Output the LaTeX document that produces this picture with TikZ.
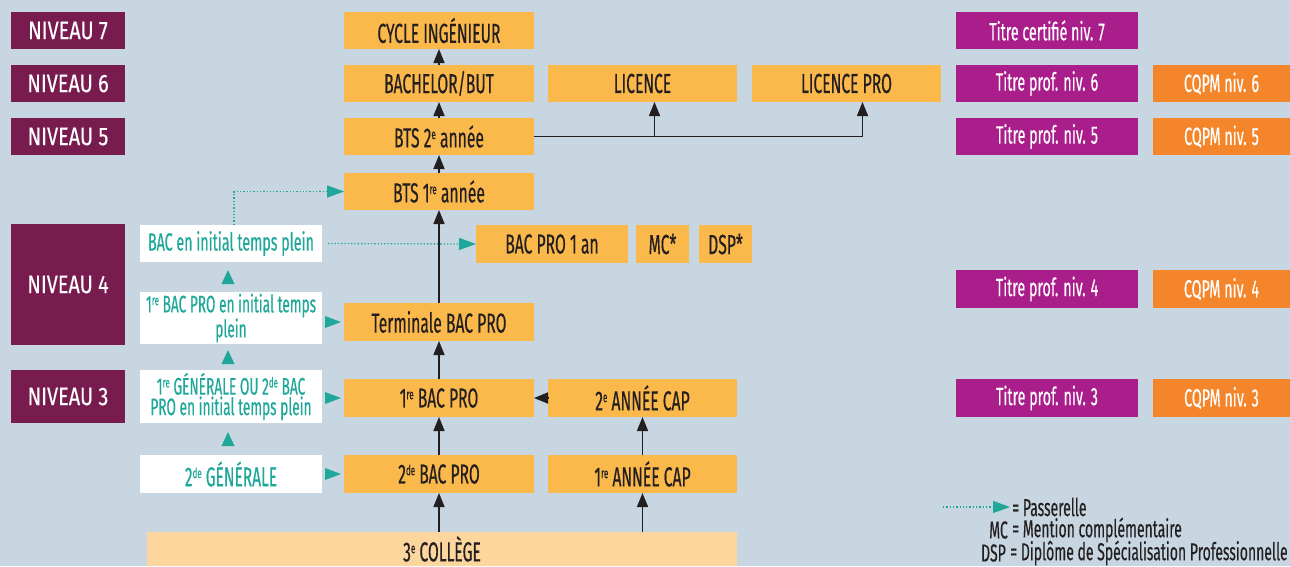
\documentclass[tikz,border=0pt]{standalone}
\usepackage{fontspec}
\setmainfont{Fira Sans}[FakeStretch=0.57,FakeBold=0.35]
\newfontfamily\nvfont{Fira Sans}[FakeStretch=0.78,FakeBold=0.35]
\usetikzlibrary{arrows.meta,calc}
\definecolor{bg}{HTML}{C8D6E1}
\definecolor{orng}{HTML}{FBB84B}
\definecolor{lorng}{HTML}{FDD69E}
\definecolor{purp}{HTML}{781C50}
\definecolor{mag}{HTML}{AA1E8C}
\definecolor{orng2}{HTML}{F5852A}
\definecolor{tealc}{HTML}{1FA89A}
\definecolor{txt}{HTML}{231F20}
\newcommand{\bx}[7]{\node[#6, minimum width={(#4-#2)*1pt}, minimum height={(#5-#3)*1pt}] (#1) at ({(#2+#4)/2},{(#3+#5)/2}) {#7};}
\newcommand{\uptri}[1]{\fill[tealc] (#1) ++(-6.5,7) -- ++(13,0) -- ++(-6.5,-14) -- cycle;}
\newcommand{\rtri}[1]{\fill[tealc] (#1) ++(-16,-6) -- ++(16,6) -- ++(-16,6) -- cycle;}
\newcommand{\sups}[1]{\raisebox{0.3em}{\fontsize{14}{14}\selectfont #1}}
\begin{document}
\begin{tikzpicture}[x=1pt,y=-1pt,
  box/.style={inner sep=0pt, outer sep=0pt, align=center, font=\fontsize{27.5}{28}\selectfont},
  ob/.style={box, fill=orng, text=txt},
  cb/.style={box, fill=lorng, text=txt},
  nv/.style={box, fill=purp, text=white, font=\nvfont\fontsize{25.5}{26}\selectfont},
  tp/.style={box, fill=mag, text=white, font=\fontsize{25}{26}\selectfont},
  cq/.style={box, fill=orng2, text=white, font=\fontsize{25}{26}\selectfont},
  wb/.style={box, fill=white, text=tealc, font=\fontsize{25}{26}\selectfont},
  wbs/.style={wb, font=\fontsize{24}{20.5}\selectfont},
  blk/.style={draw=txt, line width=1.6pt, -{Triangle[width=11pt,length=14pt]}},
  pas/.style={draw=tealc, line width=1.3pt, dotted, -{Triangle[width=12pt,length=17pt]}},
  lg/.style={inner sep=0pt, text=txt, font=\fontsize{24.5}{26}\selectfont}]
\fill[bg] (0,0) rectangle (1290,566);
\useasboundingbox (0,0) rectangle (1290,566);
% levels
\bx{nv7}{11}{12}{125}{49}{nv}{NIVEAU 7}
\bx{nv6}{11}{65}{125}{102}{nv}{NIVEAU 6}
\bx{nv5}{11}{118}{125}{155}{nv}{NIVEAU 5}
\bx{nv4}{11}{224}{125}{345}{nv}{NIVEAU 4}
\bx{nv3}{11}{370}{125}{423}{nv}{NIVEAU 3}
% main column
\bx{cyc}{344}{12}{534}{49}{ob}{CYCLE INGÉNIEUR}
\bx{bach}{344}{65}{534}{102}{ob}{BACHELOR/BUT}
\bx{lic}{548}{65}{737}{102}{ob}{LICENCE}
\bx{lp}{752}{65}{941}{102}{ob}{LICENCE PRO}
\bx{bts2}{344}{118}{534}{155}{ob}{BTS 2\sups{e} année}
\bx{bts1}{344}{173}{534}{210}{ob}{BTS 1\sups{re} année}
\bx{bacinit}{140}{225}{322}{262}{wb}{BAC en initial temps plein}
\bx{bp1an}{476}{225}{628}{263}{ob}{BAC PRO 1 an}
\bx{mc}{636}{225}{689}{263}{ob}{MC*}
\bx{dsp}{699}{225}{752}{263}{ob}{DSP*}
\bx{g1}{140}{292}{322}{344}{wbs}{1\sups{re} BAC PRO en initial temps\\plein}
\bx{term}{344}{303}{534}{341}{ob}{Terminale BAC PRO}
\bx{g2}{140}{370}{322}{423}{wbs}{1\sups{re} GÉNÉRALE OU 2\sups{de} BAC\\PRO en initial temps plein}
\bx{bac1}{344}{379}{534}{417}{ob}{1\sups{re} BAC PRO}
\bx{cap2}{548}{379}{737}{417}{ob}{2\sups{e} ANNÉE CAP}
\bx{g3}{140}{455}{322}{493}{wb, font=\fontsize{27.2}{28}\selectfont}{2\sups{de} GÉNÉRALE}
\bx{bac2}{344}{455}{534}{493}{ob}{2\sups{de} BAC PRO}
\bx{cap1}{548}{455}{737}{493}{ob}{1\sups{re} ANNÉE CAP}
\bx{coll}{147}{532}{737}{566}{cb}{3\sups{e} COLLÈGE}
% right column
\bx{t7}{956}{12}{1138}{49}{tp}{Titre certifié niv. 7}
\bx{t6}{956}{65}{1138}{102}{tp}{Titre prof. niv. 6}
\bx{q6}{1153}{65}{1290}{102}{cq}{CQPM niv. 6}
\bx{t5}{956}{118}{1138}{155}{tp}{Titre prof. niv. 5}
\bx{q5}{1153}{118}{1290}{155}{cq}{CQPM niv. 5}
\bx{t4}{956}{270}{1138}{308}{tp}{Titre prof. niv. 4}
\bx{q4}{1153}{270}{1290}{308}{cq}{CQPM niv. 4}
\bx{t3}{956}{379}{1138}{417}{tp}{Titre prof. niv. 3}
\bx{q3}{1153}{379}{1290}{417}{cq}{CQPM niv. 3}
% black arrows
\draw[blk] (bach) -- (cyc);
\draw[blk] (bts2) -- (bach);
\draw[blk] (bts1) -- (bts2);
\draw[blk] (term) -- (bts1);
\draw[blk] (bac1) -- (term);
\draw[blk] (bac2) -- (bac1);
\draw[blk] (bac2.south |- coll.north) -- (bac2.south);
\draw[blk] (cap1.south |- coll.north) -- (cap1.south);
\draw[blk] (cap1) -- (cap2);
\draw[blk] (cap2) -- (bac1);
\draw[blk] (bts2.east) -| ([xshift=16pt]lp.south);
\draw[blk] ([xshift=12pt]lic.south |- bts2.east) -- ([xshift=12pt]lic.south);
% passerelles
\draw[pas] ([xshift=3pt]bacinit.north) |- (bts1.west);
\draw[pas, shorten <=6pt] (bacinit.east) -- (bp1an.west);
\uptri{$([xshift=-3pt]bacinit.south)!0.5!([xshift=-3pt]g1.north)$}
\uptri{$([xshift=-3pt]g1.south)!0.5!([xshift=-3pt]g2.north)$}
\uptri{$([xshift=-3pt]g2.south)!0.5!([xshift=-3pt]g3.north)$}
\rtri{[xshift=-3pt]term.west}
\rtri{[xshift=-3pt]bac1.west}
\rtri{[xshift=-3pt]bac2.west}
% legend
\coordinate (lga) at (943,507);
\coordinate (lgb) at (1010,507);
\draw[pas] (lga) -- (lgb);
\node[lg, anchor=west] (lgp) at (1012,507) {= Passerelle};
\node[lg, anchor=east] (lgmc) at (1008,530) {MC};
\node[lg, anchor=west] (lgmct) at (1012,530) {= Mention complémentaire};
\node[lg, anchor=east] (lgdsp) at (1006,553) {DSP};
\node[lg, anchor=west] (lgdspt) at (1010,553) {= Diplôme de Spécialisation Professionnelle};
\end{tikzpicture}
\end{document}
